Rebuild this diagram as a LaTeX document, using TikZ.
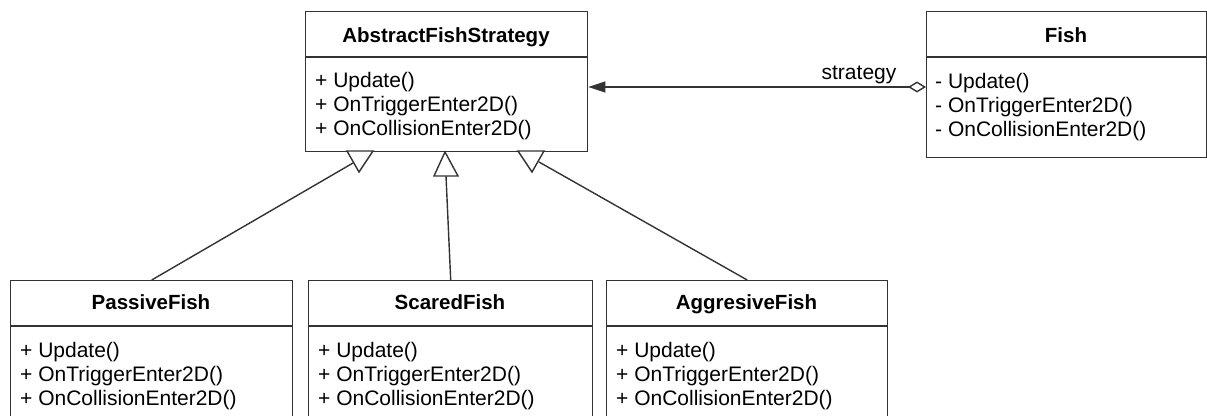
\documentclass[tikz,border=0pt]{standalone}
\usepackage{fontspec}
\setmainfont{Liberation Sans}
\usetikzlibrary{arrows.meta}
\definecolor{linec}{HTML}{333333}
\begin{document}
\begin{tikzpicture}[x=1pt,y=-1pt,
  classbox/.style={draw=linec, line width=1.4pt, fill=white, inner sep=0pt,
    anchor=north west, minimum width=#1},
  divider/.style={draw=linec, line width=1.4pt},
  titletext/.style={font=\fontsize{20.5}{24}\selectfont\bfseries, anchor=base, inner sep=0pt},
  member/.style={font=\fontsize{21}{24}\selectfont, anchor=base west, inner sep=0pt},
  edgeline/.style={draw=linec, line width=1.4pt},
  genhead/.style={draw=linec, line width=1.4pt, fill=white, line join=miter},
]
\clip (0,0) rectangle (1207,415);
\fill[white] (0,0) rectangle (1207,415);

% ---- class boxes ----
\node[classbox=282pt, minimum height=140pt] (abs) at (305,11) {};
\node[classbox=280pt, minimum height=146pt] (fish) at (926,11) {};
\node[classbox=282pt, minimum height=150pt] (passive) at (10,280) {};
\node[classbox=284pt, minimum height=150pt] (scared) at (308,280) {};
\node[classbox=281pt, minimum height=150pt] (aggr) at (606,280) {};

% ---- compartment separators ----
\coordinate (topDiv) at (0,57);
\coordinate (botDiv) at (0,326);
\draw[divider] (abs.west |- topDiv) -- (abs.east |- topDiv);
\draw[divider] (fish.west |- topDiv) -- (fish.east |- topDiv);
\draw[divider] (passive.west |- botDiv) -- (passive.east |- botDiv);
\draw[divider] (scared.west |- botDiv) -- (scared.east |- botDiv);
\draw[divider] (aggr.west |- botDiv) -- (aggr.east |- botDiv);

% ---- class names ----
\node[titletext] (absName) at (446,42) {AbstractFishStrategy};
\node[titletext] (fishName) at (1066,42) {Fish};
\node[titletext] (passiveName) at (151,309) {PassiveFish};
\node[titletext] (scaredName) at (450,309) {ScaredFish};
\node[titletext] (aggrName) at (746.5,309) {AggresiveFish};

% ---- operations ----
\node[member] (absM1) at (315,87) {+ Update()};
\node[member] (absM2) at (315,111) {+ OnTriggerEnter2D()};
\node[member] (absM3) at (315,135) {+ OnCollisionEnter2D()};

\node[member] (fishM1) at (935,88) {- Update()};
\node[member] (fishM2) at (935,112) {- OnTriggerEnter2D()};
\node[member] (fishM3) at (935,136) {- OnCollisionEnter2D()};

\node[member] (passiveM1) at (20,357) {+ Update()};
\node[member] (passiveM2) at (20,381) {+ OnTriggerEnter2D()};
\node[member] (passiveM3) at (20,405) {+ OnCollisionEnter2D()};

\node[member] (scaredM1) at (318,357) {+ Update()};
\node[member] (scaredM2) at (318,381) {+ OnTriggerEnter2D()};
\node[member] (scaredM3) at (318,405) {+ OnCollisionEnter2D()};

\node[member] (aggrM1) at (616,357) {+ Update()};
\node[member] (aggrM2) at (616,381) {+ OnTriggerEnter2D()};
\node[member] (aggrM3) at (616,405) {+ OnCollisionEnter2D()};

% ---- aggregation: Fish holds a strategy ----
\coordinate (aggY) at (0,87);
\draw[edgeline, {Diamond[open, length=18pt, width=11pt]}-{Triangle[length=17pt, width=11pt]}]
  (fish.west |- aggY) -- (abs.east |- aggY);
\node[member, anchor=base] (stratLabel) at (859,79) {strategy};

% ---- generalisation links ----
\coordinate (genL) at (353,163);
\coordinate (genM) at (446,176);
\coordinate (genR) at (539,162);
\draw[edgeline] (passive.north) -- (genL);
\draw[edgeline] (scared.north) -- (genM);
\draw[edgeline] (aggr.north) -- (genR);
\draw[genhead] (347,151) -- (373,151) -- (359,172) -- cycle;
\draw[genhead] (445,152) -- (458,176) -- (434,176) -- cycle;
\draw[genhead] (518,151) -- (544,151) -- (532,172) -- cycle;
\end{tikzpicture}
\end{document}
